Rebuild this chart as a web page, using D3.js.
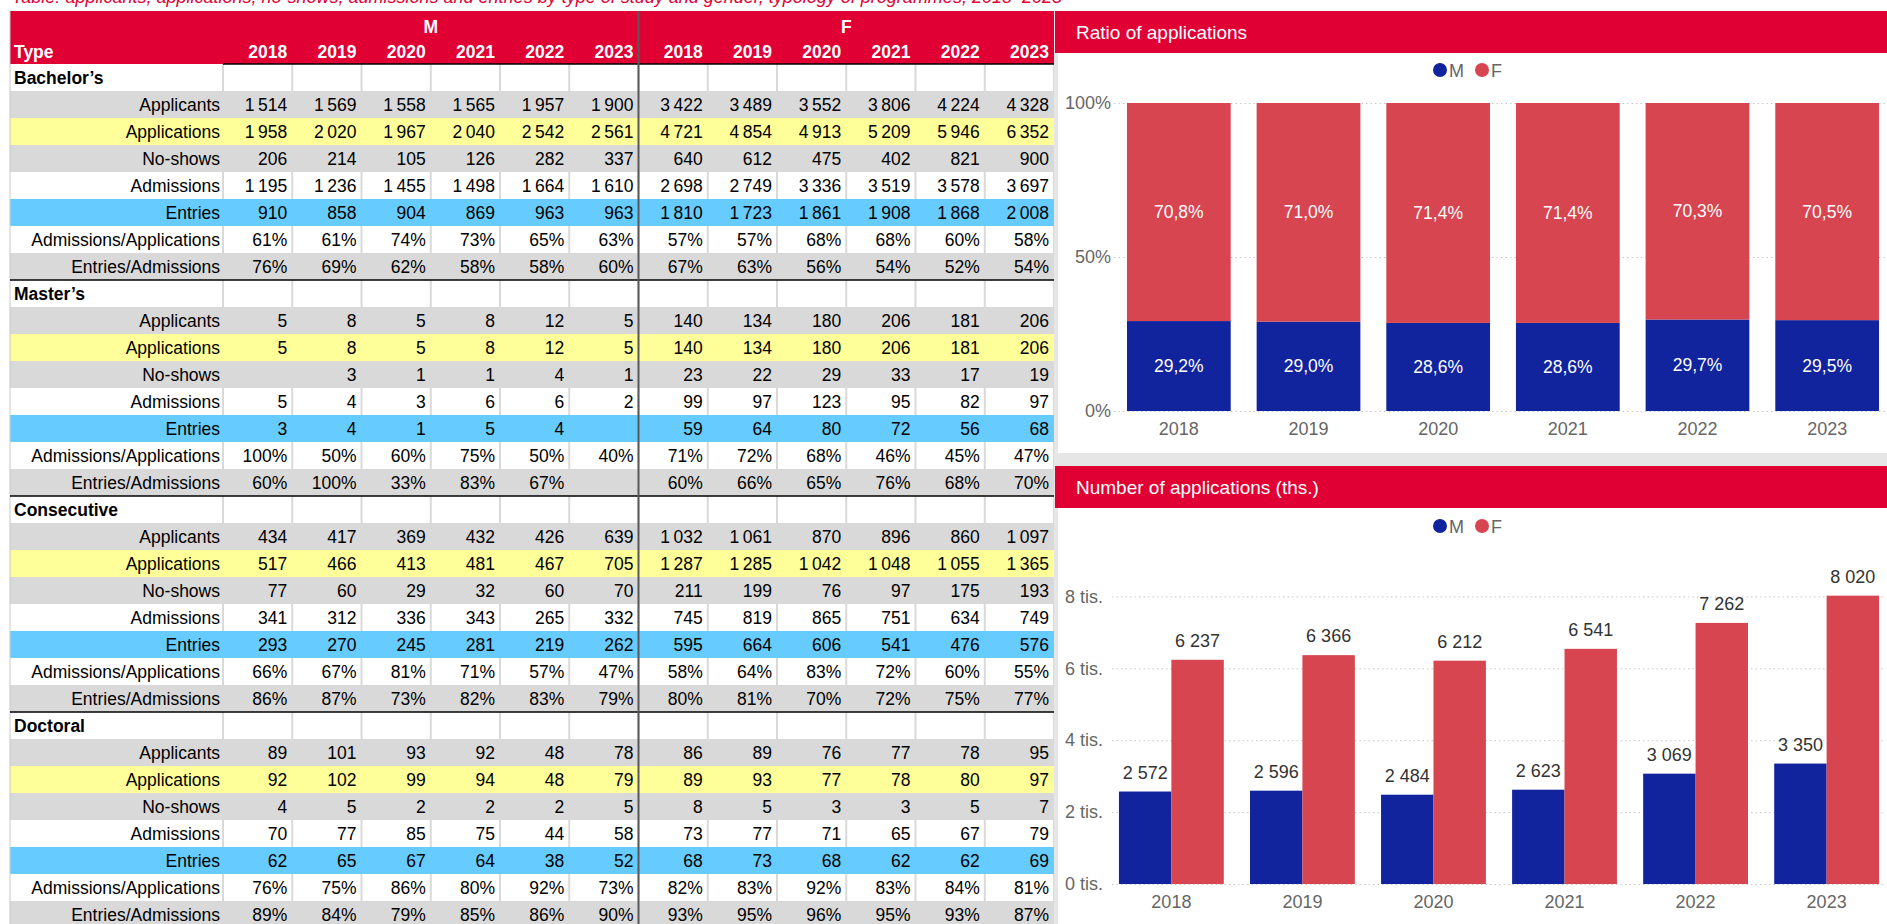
<!DOCTYPE html>
<html>
<head>
<meta charset="utf-8">
<script src="https://cdn.jsdelivr.net/npm/d3@7"></script>
<style>
  body { margin: 0; background: #fff; overflow: hidden; }
  text { font-family: "Liberation Sans", Arial, sans-serif; }
</style>
</head>
<body>
<svg id="page" width="1887" height="924"></svg>
<script>
// ---- data ----
const years = ["2018", "2019", "2020", "2021", "2022", "2023"];
const sexes = ["M", "F"];
const sections = ["Bachelor’s", "Master’s", "Consecutive", "Doctoral"];
const measures = ["Applicants", "Applications", "No-shows", "Admissions", "Entries",
                  "Admissions/Applications", "Entries/Admissions"];

// each row: M 2018..2023 then F 2018..2023 (percent rows in %)
const bachelors = [
  [1514, 1569, 1558, 1565, 1957, 1900, 3422, 3489, 3552, 3806, 4224, 4328],
  [1958, 2020, 1967, 2040, 2542, 2561, 4721, 4854, 4913, 5209, 5946, 6352],
  [206, 214, 105, 126, 282, 337, 640, 612, 475, 402, 821, 900],
  [1195, 1236, 1455, 1498, 1664, 1610, 2698, 2749, 3336, 3519, 3578, 3697],
  [910, 858, 904, 869, 963, 963, 1810, 1723, 1861, 1908, 1868, 2008],
  [61, 61, 74, 73, 65, 63, 57, 57, 68, 68, 60, 58],
  [76, 69, 62, 58, 58, 60, 67, 63, 56, 54, 52, 54]
];
const masters = [
  [5, 8, 5, 8, 12, 5, 140, 134, 180, 206, 181, 206],
  [5, 8, 5, 8, 12, 5, 140, 134, 180, 206, 181, 206],
  [null, 3, 1, 1, 4, 1, 23, 22, 29, 33, 17, 19],
  [5, 4, 3, 6, 6, 2, 99, 97, 123, 95, 82, 97],
  [3, 4, 1, 5, 4, null, 59, 64, 80, 72, 56, 68],
  [100, 50, 60, 75, 50, 40, 71, 72, 68, 46, 45, 47],
  [60, 100, 33, 83, 67, null, 60, 66, 65, 76, 68, 70]
];
const consecutive = [
  [434, 417, 369, 432, 426, 639, 1032, 1061, 870, 896, 860, 1097],
  [517, 466, 413, 481, 467, 705, 1287, 1285, 1042, 1048, 1055, 1365],
  [77, 60, 29, 32, 60, 70, 211, 199, 76, 97, 175, 193],
  [341, 312, 336, 343, 265, 332, 745, 819, 865, 751, 634, 749],
  [293, 270, 245, 281, 219, 262, 595, 664, 606, 541, 476, 576],
  [66, 67, 81, 71, 57, 47, 58, 64, 83, 72, 60, 55],
  [86, 87, 73, 82, 83, 79, 80, 81, 70, 72, 75, 77]
];
const doctoral = [
  [89, 101, 93, 92, 48, 78, 86, 89, 76, 77, 78, 95],
  [92, 102, 99, 94, 48, 79, 89, 93, 77, 78, 80, 97],
  [4, 5, 2, 2, 2, 5, 8, 5, 3, 3, 5, 7],
  [70, 77, 85, 75, 44, 58, 73, 77, 71, 65, 67, 79],
  [62, 65, 67, 64, 38, 52, 68, 73, 68, 62, 62, 69],
  [76, 75, 86, 80, 92, 73, 82, 83, 92, 83, 84, 81],
  [89, 84, 79, 85, 86, 90, 93, 95, 96, 95, 93, 87]
];

const ratioM = [29.2, 29.0, 28.6, 28.6, 29.7, 29.5];
const ratioF = [70.8, 71.0, 71.4, 71.4, 70.3, 70.5];
const applicationsM = [2572, 2596, 2484, 2623, 3069, 3350];
const applicationsF = [6237, 6366, 6212, 6541, 7262, 8020];

const ratioTicks = [0, 0.5, 1];
const applicationTicks = [0, 2000, 4000, 6000, 8000];

// ---- styles ----
const RED = "#E00034";
const BLUE_BAR = "#12239E";
const RED_BAR = "#D64550";
const rowFills = ["#D9D9D9", "#FFFF99", "#D9D9D9", "#FFFFFF", "#66CCFF", "#FFFFFF", "#D9D9D9"];

const cz = d3.formatLocale({ decimal: ",", thousands: "\u2009", grouping: [3], currency: ["", ""] });
const fmtTable = cz.format(",d");
const czChart = d3.formatLocale({ decimal: ",", thousands: " ", grouping: [3], currency: ["", ""] });
const fmtChart = czChart.format(",d");
const fmtRatio = d => czChart.format(".1f")(d * 100) + "%";

const svg = d3.select("#page");

// caption line at very top, mostly above the frame as in the source screenshot
svg.append("text")
   .attr("x", 12).attr("y", 3)
   .attr("fill", RED).attr("font-size", 18).attr("font-style", "italic")
   .text("Table: applicants, applications, no-shows, admissions and entries by type of study and gender, typology of programmes, 2018–2023");

// ---- table ----
const tableLeft = 10, tableRight = 1054, labelRight = 223;
const headTop = 11, bodyTop = 64, rowH = 27;

const colKeys = sexes.flatMap(s => years.map(y => s + y));
const xCol = d3.scaleBand().domain(colKeys).range([labelRight, tableRight]);

const rows = [];
[bachelors, masters, consecutive, doctoral].forEach((sec, si) => {
  rows.push({ section: true, label: sections[si] });
  sec.forEach((vals, mi) => rows.push({ section: false, label: measures[mi], mi, vals }));
});
const yRow = d3.scaleBand().domain(d3.range(rows.length))
               .range([bodyTop, bodyTop + rowH * rows.length]);

const table = svg.append("g").attr("id", "table");

// header
table.append("rect")
     .attr("x", tableLeft).attr("y", headTop)
     .attr("width", tableRight - tableLeft).attr("height", bodyTop - headTop)
     .attr("fill", RED);
table.append("text")
     .attr("x", tableLeft + 4).attr("y", 58)
     .attr("fill", "#fff").attr("font-weight", "bold").attr("font-size", 17.5)
     .text("Type");
sexes.forEach(s => {
  const x0 = xCol(s + years[0]), x1 = xCol(s + years[5]) + xCol.bandwidth();
  table.append("text")
       .attr("x", (x0 + x1) / 2).attr("y", 33)
       .attr("text-anchor", "middle")
       .attr("fill", "#fff").attr("font-weight", "bold").attr("font-size", 17.5)
       .text(s);
});
table.selectAll("text.year")
     .data(colKeys)
     .enter()
     .append("text")
     .attr("class", "year")
     .attr("x", d => xCol(d) + xCol.bandwidth() - 5)
     .attr("y", 58)
     .attr("text-anchor", "end")
     .attr("fill", "#fff").attr("font-weight", "bold").attr("font-size", 17.5)
     .text(d => d.slice(1));

// body rows
const rowG = table.selectAll("g.row")
                  .data(rows)
                  .enter()
                  .append("g")
                  .attr("class", "row")
                  .attr("transform", (d, i) => `translate(0, ${yRow(i)})`);

rowG.append("rect")
    .attr("x", tableLeft).attr("width", tableRight - tableLeft)
    .attr("height", rowH)
    .attr("fill", d => d.section ? "#fff" : rowFills[d.mi]);

// light cell separators on white rows
const sepXs = [labelRight].concat(colKeys.map(k => xCol(k) + xCol.bandwidth()));
rowG.filter(d => d.section || rowFills[d.mi] === "#FFFFFF")
    .selectAll("line.sep")
    .data(sepXs)
    .enter()
    .append("line")
    .attr("class", "sep")
    .attr("x1", d => d).attr("x2", d => d)
    .attr("y1", 0).attr("y2", rowH)
    .attr("stroke", "#D9D9D9").attr("stroke-width", 2);

rowG.append("text")
    .attr("x", d => d.section ? tableLeft + 4 : labelRight - 3)
    .attr("y", rowH / 2 + 6)
    .attr("text-anchor", d => d.section ? "start" : "end")
    .attr("font-weight", d => d.section ? "bold" : "normal")
    .attr("font-size", 17.5)
    .attr("fill", "#000")
    .text(d => d.label);

rowG.filter(d => !d.section)
    .selectAll("text.val")
    .data(d => d.vals.map((v, j) => ({ v, key: colKeys[j], pct: d.mi >= 5 })))
    .enter()
    .append("text")
    .attr("class", "val")
    .attr("x", d => xCol(d.key) + xCol.bandwidth() - 5)
    .attr("y", rowH / 2 + 6)
    .attr("text-anchor", "end")
    .attr("font-size", 17.5)
    .attr("fill", "#000")
    .text(d => d.v == null ? "" : (d.pct ? d.v + "%" : fmtTable(d.v)));

// table borders
table.append("line")
     .attr("x1", tableLeft).attr("x2", tableLeft)
     .attr("y1", headTop).attr("y2", 924)
     .attr("stroke", "#C8C8C8").attr("stroke-width", 1);
[0, 8, 16, 24].forEach(i => {
  table.append("line")
       .attr("x1", i === 0 ? labelRight : tableLeft).attr("x2", tableRight)
       .attr("y1", yRow(i)).attr("y2", yRow(i))
       .attr("stroke", "#000").attr("stroke-width", 1.5);
});
table.append("line")
     .attr("x1", xCol("F2018")).attr("x2", xCol("F2018"))
     .attr("y1", headTop).attr("y2", 924)
     .attr("stroke", "#595959").attr("stroke-width", 2);

// ---- dashboard panels ----
svg.append("rect")
   .attr("x", tableRight).attr("y", headTop)
   .attr("width", 1887 - tableRight).attr("height", 924 - headTop)
   .attr("fill", "#E6E6E6");

function panel(top, bottom, title) {
  svg.append("rect")
     .attr("x", 1058).attr("y", top)
     .attr("width", 1887 - 1058).attr("height", bottom - top)
     .attr("fill", "#fff");
  svg.append("rect")
     .attr("x", 1055).attr("y", top)
     .attr("width", 1887 - 1055).attr("height", 42)
     .attr("fill", RED);
  svg.append("text")
     .attr("x", 1076).attr("y", top + 28)
     .attr("fill", "#fff").attr("font-size", 19)
     .attr("font-family", "'Open Sans', sans-serif")
     .text(title);
}

function legend(cy) {
  const lg = svg.append("g");
  const items = [{ k: "M", c: BLUE_BAR, x: 1440 }, { k: "F", c: RED_BAR, x: 1482 }];
  lg.selectAll("circle").data(items).enter().append("circle")
    .attr("cx", d => d.x).attr("cy", cy).attr("r", 7).attr("fill", d => d.c);
  lg.selectAll("text").data(items).enter().append("text")
    .attr("x", d => d.x + 9).attr("y", cy + 6.5)
    .attr("font-size", 18).attr("fill", "#666")
    .text(d => d.k);
}

function styleAxis(g) {
  g.select(".domain").remove();
  g.selectAll("text").attr("font-size", 18).attr("fill", "#666")
   .attr("font-family", "'Liberation Sans', Arial, sans-serif");
}

// ---- chart 1: ratio of applications ----
panel(11, 453, "Ratio of applications");
legend(70);

const x1 = d3.scaleBand().domain(years).range([1120.5, 1885.5]).paddingInner(0.2).paddingOuter(0.05);
const y1 = d3.scaleLinear().domain([0, 1]).range([411, 103]);

svg.append("g")
   .attr("transform", "translate(1114, 0)")
   .call(d3.axisLeft(y1).tickValues(ratioTicks).tickSize(-(1885 - 1114)).tickFormat(""))
   .call(g => g.select(".domain").remove())
   .call(g => g.selectAll("line").attr("stroke", "#C8C8C8").attr("stroke-dasharray", "1.5,3"));

const ratioTable = years.map((y, i) => ({ year: y, M: ratioM[i] / 100, F: ratioF[i] / 100 }));
const stacked = d3.stack().keys(sexes)(ratioTable);
const colour = d3.scaleOrdinal().domain(sexes).range([BLUE_BAR, RED_BAR]);

const layers = svg.append("g").selectAll("g")
                  .data(stacked)
                  .enter()
                  .append("g")
                  .attr("fill", d => colour(d.key));
layers.selectAll("rect")
      .data(d => d)
      .enter()
      .append("rect")
      .attr("x", d => x1(d.data.year))
      .attr("y", d => y1(d[1]))
      .attr("width", x1.bandwidth())
      .attr("height", d => y1(d[0]) - y1(d[1]));
layers.selectAll("text")
      .data(d => d)
      .enter()
      .append("text")
      .attr("x", d => x1(d.data.year) + x1.bandwidth() / 2)
      .attr("y", d => (y1(d[0]) + y1(d[1])) / 2 + 6)
      .attr("text-anchor", "middle")
      .attr("font-size", 17.5).attr("fill", "#fff")
      .text(d => fmtRatio(d[1] - d[0]));

svg.append("g")
   .attr("transform", "translate(1114, 0)")
   .call(d3.axisLeft(y1).tickValues(ratioTicks).tickSize(0).tickPadding(3)
           .tickFormat(d => Math.round(d * 100) + "%"))
   .call(styleAxis);
svg.append("g")
   .attr("transform", "translate(0, 411)")
   .call(d3.axisBottom(x1).tickSize(0).tickPadding(11))
   .call(styleAxis);

// ---- chart 2: number of applications ----
panel(466, 924, "Number of applications (ths.)");
legend(526);

const x2 = d3.scaleBand().domain(years).range([1112.4, 1885.6]).paddingInner(0.2).paddingOuter(0.05);
const xs = d3.scaleBand().domain(sexes).range([0, x2.bandwidth()]);
const y2 = d3.scaleLinear().domain([0, 8000]).range([884, 596.4]);

svg.append("g")
   .attr("transform", "translate(1112, 0)")
   .call(d3.axisLeft(y2).tickValues(applicationTicks).tickSize(-(1885 - 1112)).tickFormat(""))
   .call(g => g.select(".domain").remove())
   .call(g => g.selectAll("line").attr("stroke", "#C8C8C8").attr("stroke-dasharray", "1.5,3"));

const appTable = years.flatMap((y, i) => [
  { year: y, sex: "M", value: applicationsM[i] },
  { year: y, sex: "F", value: applicationsF[i] }
]);

const bars = svg.append("g");
bars.selectAll("rect")
    .data(appTable)
    .enter()
    .append("rect")
    .attr("x", d => x2(d.year) + xs(d.sex))
    .attr("y", d => y2(d.value))
    .attr("width", xs.bandwidth())
    .attr("height", d => y2(0) - y2(d.value))
    .attr("fill", d => colour(d.sex));
bars.selectAll("text")
    .data(appTable)
    .enter()
    .append("text")
    .attr("x", d => x2(d.year) + xs(d.sex) + xs.bandwidth() / 2)
    .attr("y", d => y2(d.value) - 13)
    .attr("text-anchor", "middle")
    .attr("font-size", 18).attr("fill", "#333")
    .text(d => fmtChart(d.value));

svg.append("g")
   .attr("transform", "translate(1106, 0)")
   .call(d3.axisLeft(y2).tickValues(applicationTicks).tickSize(0).tickPadding(3)
           .tickFormat(d => (d / 1000) + " tis."))
   .call(styleAxis);
svg.append("g")
   .attr("transform", "translate(0, 884)")
   .call(d3.axisBottom(x2).tickSize(0).tickPadding(11))
   .call(styleAxis);
</script>
</body>
</html>
